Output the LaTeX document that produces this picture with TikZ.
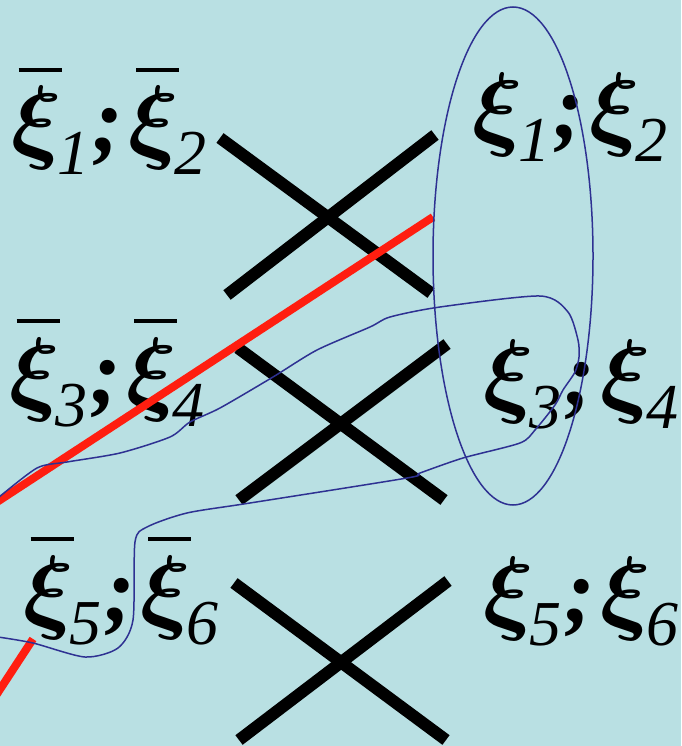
\documentclass[tikz,border=0pt]{standalone}
\usepackage{fontspec}
\setmainfont{Liberation Serif}
\usetikzlibrary{positioning}

\definecolor{slidebg}{RGB}{185,224,227}
\definecolor{loopblue}{RGB}{46,49,146}
\definecolor{pathred}{RGB}{255,30,16}

% subscript and barred xi
\font\xiface=cmmib10 at 94pt
\newcommand{\xig}{{\xiface\char24}}
\newcommand{\xisub}[1]{\raisebox{-0.25em}{\fontsize{64}{64}\selectfont\mdseries\itshape #1}}
\newcommand{\xib}[1]{\rlap{\kern0.08em\rule[0.87em]{0.47em}{0.045em}}\xig\kern-0.02em\xisub{#1}}
\newcommand{\xin}[1]{\xig\kern-0.02em\xisub{#1}}
\newcommand{\sep}{\kern3pt;\kern6pt}

\tikzset{
    lbl/.style={anchor=base west, inner sep=0pt, font=\fontsize{92}{94}\selectfont\bfseries\itshape},
    xline/.style={line width=12pt, black},
    redline/.style={line width=8pt, pathred},
    blueline/.style={line width=1.5pt, loopblue}
}

\begin{document}
\begin{tikzpicture}[x=1pt, y=-1pt]
    \fill[slidebg] (0,0) rectangle (681,746);
    \useasboundingbox (0,0) rectangle (681,746);

    % left and right labels
    \node[lbl] (lhs1) at (11,152) {\xib{1}\sep\xib{2}};
    \node[lbl] (rhs1) at (472,139) {\xin{1}\sep\xin{2}};
    \node[lbl] (lhs2) at (9,403) {\xib{3}\sep\xib{4}};
    \node[lbl] (rhs2) at (483,405) {\xin{3}\sep\xin{4}};
    \node[lbl] (lhs3) at (23,621) {\xib{5}\sep\xib{6}};
    \node[lbl] (rhs3) at (483,622) {\xin{5}\sep\xin{6}};

    % crossings
    \foreach \ax/\ay/\bx/\by/\cx/\cy/\dx/\dy in {220/138/431/293/435/135/227/295,
                                                 238/348/444/500/447/344/239/500,
                                                 234/583/446/740/448/581/239/740} {
        \draw[xline] (\ax,\ay) -- (\bx,\by);
        \draw[xline] (\cx,\cy) -- (\dx,\dy);
    }

    % red path
    \draw[redline] (-3,502) -- (433,217);
    \draw[redline] (33,639) -- (-5,697);

    % blue ellipse and loop
    \draw[blueline] (513,256) ellipse [x radius=80, y radius=249];
    \draw[blueline] plot[smooth, tension=0.45] coordinates {
        (-2,498) (37,468) (67,462) (120,453) (170,437) (190,422) (220,408)
        (273,377) (317,350) (370,327) (390,317) (440,307) (540,296) (568,312)
        (578,340) (579,357) (575,372) (563,390) (555,405) (535,430) (520,443)
        (463,458) (420,473) (407,478) (250,503) (187,513) (147,527) (135,542)
        (133,620) (118,648) (85,657) (33,643) (-2,637)};
\end{tikzpicture}
\end{document}
